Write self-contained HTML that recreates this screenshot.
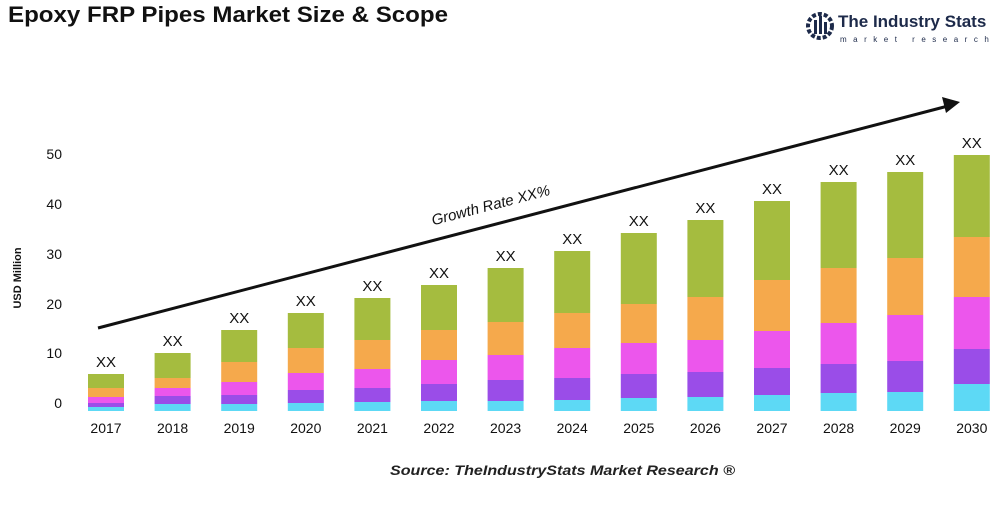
<!DOCTYPE html><html><head><style>body{margin:0;background:#fff;width:1000px;height:500px;overflow:hidden;font-family:"Liberation Sans",sans-serif}</style></head><body>
<svg width="1000" height="500" xmlns="http://www.w3.org/2000/svg" font-family="Liberation Sans, sans-serif">
<text x="8" y="22" font-size="22" font-weight="bold" fill="#111" textLength="440" lengthAdjust="spacingAndGlyphs">Epoxy FRP Pipes Market Size &amp; Scope</text>
<g transform="translate(806,10)"><circle cx="14" cy="16" r="12" fill="none" stroke="#1d2a4a" stroke-width="4" stroke-dasharray="4 2"/><rect x="8" y="10" width="3" height="14" fill="#1d2a4a"/><rect x="13" y="6" width="3" height="18" fill="#1d2a4a"/><rect x="18" y="12" width="3" height="12" fill="#1d2a4a"/></g>
<text x="838" y="27" font-size="17" font-weight="bold" fill="#1d2a4a">The Industry Stats</text>
<text x="840" y="42" font-size="8" fill="#1d2a4a" letter-spacing="6.5">market research</text>
<text transform="translate(21,278) rotate(-90)" font-size="11" font-weight="bold" text-anchor="middle" fill="#111">USD Million</text>
<g font-size="14" fill="#111" text-anchor="end">
<text x="62" y="159">50</text><text x="62" y="209">40</text><text x="62" y="259">30</text><text x="62" y="309">20</text><text x="62" y="358">10</text><text x="62" y="408">0</text></g>
<g id="bars"></g>
<line x1="98" y1="328" x2="948" y2="106" stroke="#111" stroke-width="3"/>
<polygon points="960,102 942,97 946,113" fill="#111"/>
<text transform="translate(492,210) rotate(-14.6)" font-size="15" font-style="italic" text-anchor="middle" fill="#111">Growth Rate XX%</text>
<text x="390" y="475" font-size="14" font-weight="bold" font-style="italic" fill="#222" textLength="345" lengthAdjust="spacingAndGlyphs">Source: TheIndustryStats Market Research ®</text>
</svg>
<script>
var d=[[374,388,397,403,407],[353,378,388,396,404],[330,362,382,395,404],[313,348,373,390,403],[298,340,369,388,402],[285,330,360,384,401],[268,322,355,380,401],[251,313,348,378,400],[233,304,343,374,398],[220,297,340,372,397],[201,280,331,368,395],[182,268,323,364,393],[172,258,315,361,392],[155,237,297,349,384]];
var c=["#a5bc3f","#f5a94c","#ec56ec","#9a4de8","#5dd9f5"],s="";
d.forEach(function(b,i){var cx=106+i*66.6,x=cx-18;for(var k=0;k<5;k++){var y=b[k],y2=k<4?b[k+1]:411;s+='<rect x="'+x+'" y="'+y+'" width="36" height="'+(y2-y)+'" fill="'+c[k]+'"/>';}
s+='<text x="'+cx+'" y="'+(b[0]-7)+'" font-size="15" text-anchor="middle" fill="#111">XX</text>';
s+='<text x="'+cx+'" y="433" font-size="14" text-anchor="middle" fill="#111">'+(2017+i)+'</text>';});
document.getElementById("bars").innerHTML=s;
</script></body></html>
